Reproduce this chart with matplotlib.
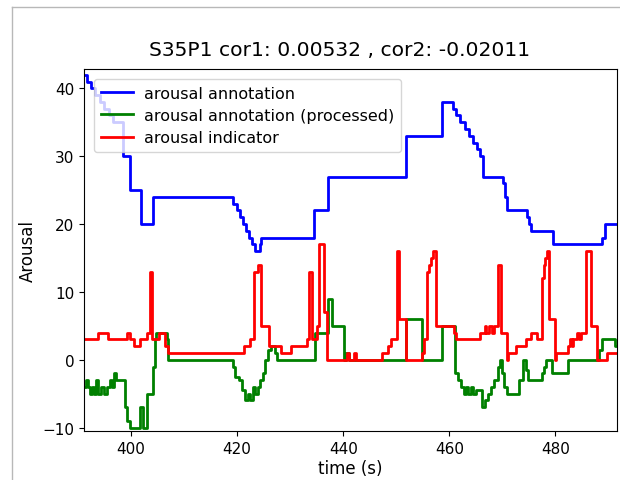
import matplotlib
matplotlib.use('Agg')
import matplotlib.pyplot as plt
from matplotlib.lines import Line2D

plt.rcParams['font.size'] = 12

title = "S35P1 cor1: 0.00532 , cor2: -0.02011"
t_start = 391.15
t_end = 491.6

# arousal annotation (step breakpoints: time, value)
blue_t = [391.15, 391.8, 392.5, 393.3, 394.2, 395.0, 395.8, 396.7, 398.5, 399.9,
          401.8, 404.1, 419.3, 419.9, 420.5, 421.1, 421.7, 422.3, 422.9, 423.4,
          424.3, 424.6, 434.5, 437.1, 451.8, 458.7, 460.6, 461.3, 462.1, 462.9,
          463.7, 464.5, 465.3, 465.8, 466.4, 470.1, 470.4, 470.9, 474.6, 475.0,
          475.3, 479.6, 488.7, 489.3]
blue_v = [42, 41, 40, 39, 38, 37, 36, 35, 30, 25,
          20, 24, 23, 22, 21, 20, 19, 18, 17, 16,
          17, 18, 22, 27, 33, 38, 37, 36, 35, 34,
          33, 32, 31, 30, 27, 26, 24, 22, 21, 20,
          19, 17, 18, 20]

# arousal annotation (processed)
green_t = [391.15, 391.5, 391.9, 392.3, 392.7, 393.0, 393.4, 393.8, 394.3, 395.0,
           395.4, 396.0, 396.5, 396.8, 397.2, 398.9, 399.3, 399.8, 401.7, 402.2,
           403.0, 404.1, 404.5, 404.8, 406.7, 407.0, 419.3, 419.7, 420.3, 420.9,
           421.5, 422.0, 422.5, 423.0, 423.4, 424.0, 424.4, 424.9, 425.3, 425.9,
           426.4, 427.2, 427.6, 434.7, 437.1, 437.9, 440.1, 440.6, 441.0, 451.8,
           454.9, 458.7, 461.1, 461.6, 462.2, 462.8, 463.2, 463.6, 464.0, 464.5,
           465.0, 466.1, 466.8, 467.3, 467.9, 468.5, 469.2, 469.6, 469.9, 470.3,
           470.8, 473.2, 473.8, 474.4, 474.9, 477.4, 477.8, 478.2, 479.4, 482.4,
           488.3, 488.7, 491.2]
green_v = [-4, -3, -4, -5, -4, -5, -3, -5, -4, -5,
           -4, -3, -4, -2, -3, -7, -9, -10, -7, -10,
           -5, -1, 3, 4, 3, 0, -1, -2.5, -3, -4.5,
           -6, -5, -6, -4, -5, -4, -3, -2, 0, 1.5,
           2, 1, 0, 4, 9, 5, 0, 1, 0, 6,
           0, 5, -2, -3, -4, -5, -4, -5, -4, -5,
           -4.5, -7, -6, -5, -4, -3, -1, 0, -2, -4,
           -5, -3, 0, -1.5, -3, -2, -1, 0, -2, 0,
           1.5, 3, 2]

# arousal indicator
red_t = [391.15, 393.8, 395.7, 399.3, 399.8, 400.6, 401.7, 403.0, 403.5, 404.0,
         405.3, 406.5, 407.0, 421.3, 422.4, 423.2, 424.0, 424.6, 426.0, 428.2,
         430.1, 433.1, 433.6, 434.2, 435.0, 435.4, 436.4, 437.0, 440.7, 441.1,
         442.0, 442.5, 447.4, 448.5, 449.0, 450.2, 450.6, 451.8, 454.9, 455.3,
         455.7, 456.1, 456.5, 457.0, 457.4, 460.8, 461.3, 465.8, 466.7, 467.0,
         467.5, 468.0, 468.4, 469.2, 469.7, 470.8, 471.1, 472.6, 474.5, 475.4,
         476.5, 477.5, 477.8, 478.1, 478.4, 478.8, 479.9, 480.1, 482.3, 482.8,
         483.1, 483.4, 484.0, 484.4, 484.8, 485.8, 486.7, 487.8, 489.7]
red_v = [3, 4, 3, 4, 3, 2, 3, 4, 13, 3,
         4, 2, 1, 2, 3, 13, 14, 5, 2, 1,
         2, 3, 13, 3, 5, 17, 7, 0, 1, 0,
         1, 0, 1, 2, 3, 16, 6, 0, 1, 3,
         13, 14, 15, 16, 5, 4, 3, 4, 5, 4,
         5, 4, 5, 14, 4, 0, 1, 2, 3, 4,
         3, 12, 14, 15, 16, 6, 0, 1, 2, 3,
         2, 3, 4, 3, 4, 16, 5, 0, 1]

fig = plt.figure(figsize=(6.2, 4.81), dpi=100)
ax = fig.add_axes([84 / 620, 1 - 432 / 481, 533 / 620, 362 / 481])

ax.step(blue_t + [t_end], blue_v + [blue_v[-1]], where='post', color='b', lw=2,
        label='arousal annotation')
ax.step(green_t + [t_end], green_v + [green_v[-1]], where='post', color='g', lw=2,
        label='arousal annotation (processed)')
ax.step(red_t + [t_end], red_v + [red_v[-1]], where='post', color='r', lw=2,
        label='arousal indicator')

ax.set_xlim(t_start, t_end)
ax.set_ylim(-10.5, 42.85)
ax.set_xticks([400, 420, 440, 460, 480])
ax.set_yticks([-10, 0, 10, 20, 30, 40])
ax.tick_params(labelsize=11)
ax.set_xlabel('time (s)', fontsize=12, labelpad=2)
ax.set_ylabel('Arousal', fontsize=12)
ax.set_title(title, fontsize=14.6, x=0.48, pad=10)
ax.legend(loc='upper left', fontsize=11.5, labelspacing=0.45, borderpad=0.45,
          handlelength=2.0, handletextpad=0.7, borderaxespad=0.6)

# screenshot frame lines (top and left)
fig.add_artist(Line2D([12 / 620, 1], [1 - 8 / 481, 1 - 8 / 481], color='#b8b8b8', lw=1,
                      transform=fig.transFigure))
fig.add_artist(Line2D([12 / 620, 12 / 620], [0, 1 - 8 / 481], color='#b8b8b8', lw=1,
                      transform=fig.transFigure))

fig.savefig('out.png', dpi=100)
